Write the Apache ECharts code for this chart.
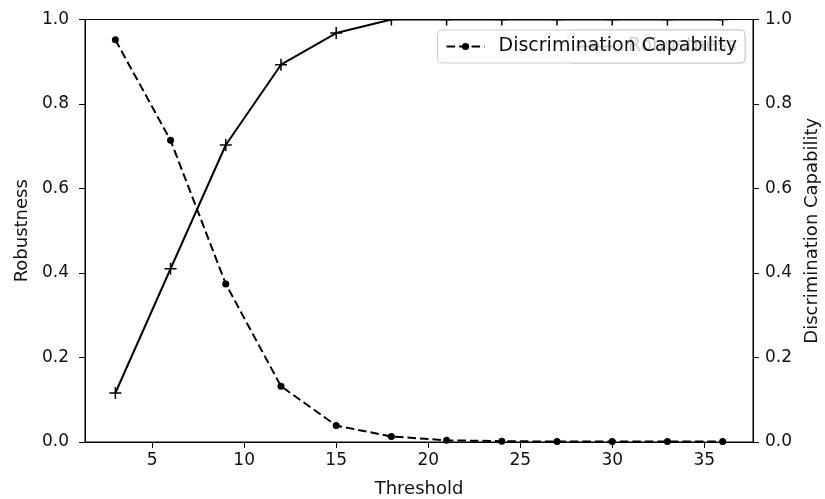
<!DOCTYPE html>
<html>
<head>
<meta charset="utf-8">
<script src="https://cdn.jsdelivr.net/npm/echarts@6/dist/echarts.min.js"></script>
<style>
  html, body { margin: 0; padding: 0; background: #fff; }
  #chart { width: 825px; height: 499px; }
</style>
</head>
<body>
<div id="chart"></div>
<script>
// values
const thresholds = [3, 6, 9, 12, 15, 18, 21, 24, 27, 30, 33, 36]
const robustness = [0.116, 0.41, 0.703, 0.893, 0.968, 1.0, 1.0, 1.0, 1.0, 1.0, 1.0, 1.0]
const discrimination = [0.952, 0.714, 0.374, 0.132, 0.039, 0.013, 0.004, 0.002, 0.001, 0.001, 0.001, 0.001]
const xTicks = [5, 10, 15, 20, 25, 30, 35]

const FONT = 'DejaVu Sans'
const INK = '#111'

const pairs = (ys) => thresholds.map((x, i) => [x, ys[i]])

const yAxisBase = {
  type: 'value',
  min: 0,
  max: 1,
  interval: 0.2,
  splitLine: { show: false },
  axisLine: { show: true, lineStyle: { color: '#000', width: 1 } },
  axisTick: { show: true, length: 6, lineStyle: { color: '#000' } },
  axisLabel: {
    color: INK, fontFamily: FONT, fontSize: 17,
    formatter: (v) => v.toFixed(1)
  },
  nameLocation: 'middle',
  nameTextStyle: { color: INK, fontFamily: FONT, fontSize: 18 }
}

const legendBase = {
  right: 80,
  top: 30,
  orient: 'horizontal',
  itemWidth: 38,
  itemHeight: 9,
  padding: [7, 8, 7, 8],
  borderColor: '#cccccc',
  borderWidth: 1,
  borderRadius: 4,
  textStyle: { color: INK, fontFamily: FONT, fontSize: 19, padding: [0, 0, 0, 9] }
}

const myChart = echarts.init(document.getElementById('chart'), null, { renderer: 'canvas' })
myChart.setOption({
  animation: false,
  grid: {
    left: 85, right: 72, top: 19.5, bottom: 57,
    outerBoundsMode: 'none',
    containLabel: false,
    show: true, borderColor: '#000', borderWidth: 1
  },
  legend: [{
    ...legendBase,
    data: ['Robustness'],
    backgroundColor: '#fff',
    z: 4
  }, {
    ...legendBase,
    data: ['Discrimination Capability'],
    backgroundColor: 'rgba(255,255,255,0.8)',
    z: 6
  }],
  // hides the halves of the markers that sit above the top spine
  graphic: [{
    type: 'rect',
    z: 3,
    silent: true,
    shape: { x: 86, y: 0, width: 666, height: 19 },
    style: { fill: '#fff' }
  }],
  xAxis: [{
    type: 'value',
    min: 1.35,
    max: 37.65,
    name: 'Threshold',
    nameLocation: 'middle',
    nameGap: 38,
    nameTextStyle: { color: INK, fontFamily: FONT, fontSize: 18 },
    splitLine: { show: false },
    axisLine: { show: true, lineStyle: { color: '#000', width: 1 } },
    axisTick: { show: true, length: 6, customValues: xTicks, lineStyle: { color: '#000' } },
    axisLabel: { color: INK, fontFamily: FONT, fontSize: 17, margin: 10, customValues: xTicks }
  }],
  yAxis: [{
    ...yAxisBase,
    position: 'left',
    name: 'Robustness',
    nameGap: 48,
    axisLabel: { ...yAxisBase.axisLabel, margin: 16 }
  }, {
    ...yAxisBase,
    position: 'right',
    name: 'Discrimination Capability',
    nameGap: 47,
    axisLabel: { ...yAxisBase.axisLabel, margin: 12 }
  }],
  series: [{
    name: 'Robustness',
    type: 'line',
    yAxisIndex: 0,
    data: pairs(robustness),
    symbol: 'path://M0,5L10,5M5,0L5,10',
    symbolSize: 12,
    showAllSymbol: true,
    itemStyle: { color: 'rgba(0,0,0,0)', borderColor: '#000', borderWidth: 1.5 },
    lineStyle: { color: '#000', width: 2 },
    z: 2
  }, {
    name: 'Discrimination Capability',
    type: 'line',
    yAxisIndex: 1,
    data: pairs(discrimination),
    symbol: 'circle',
    symbolSize: 7,
    showAllSymbol: true,
    itemStyle: { color: '#000', borderWidth: 0 },
    lineStyle: { color: '#000', width: 2, type: [8.5, 4] },
    z: 2
  }]
})
</script>
</body>
</html>
